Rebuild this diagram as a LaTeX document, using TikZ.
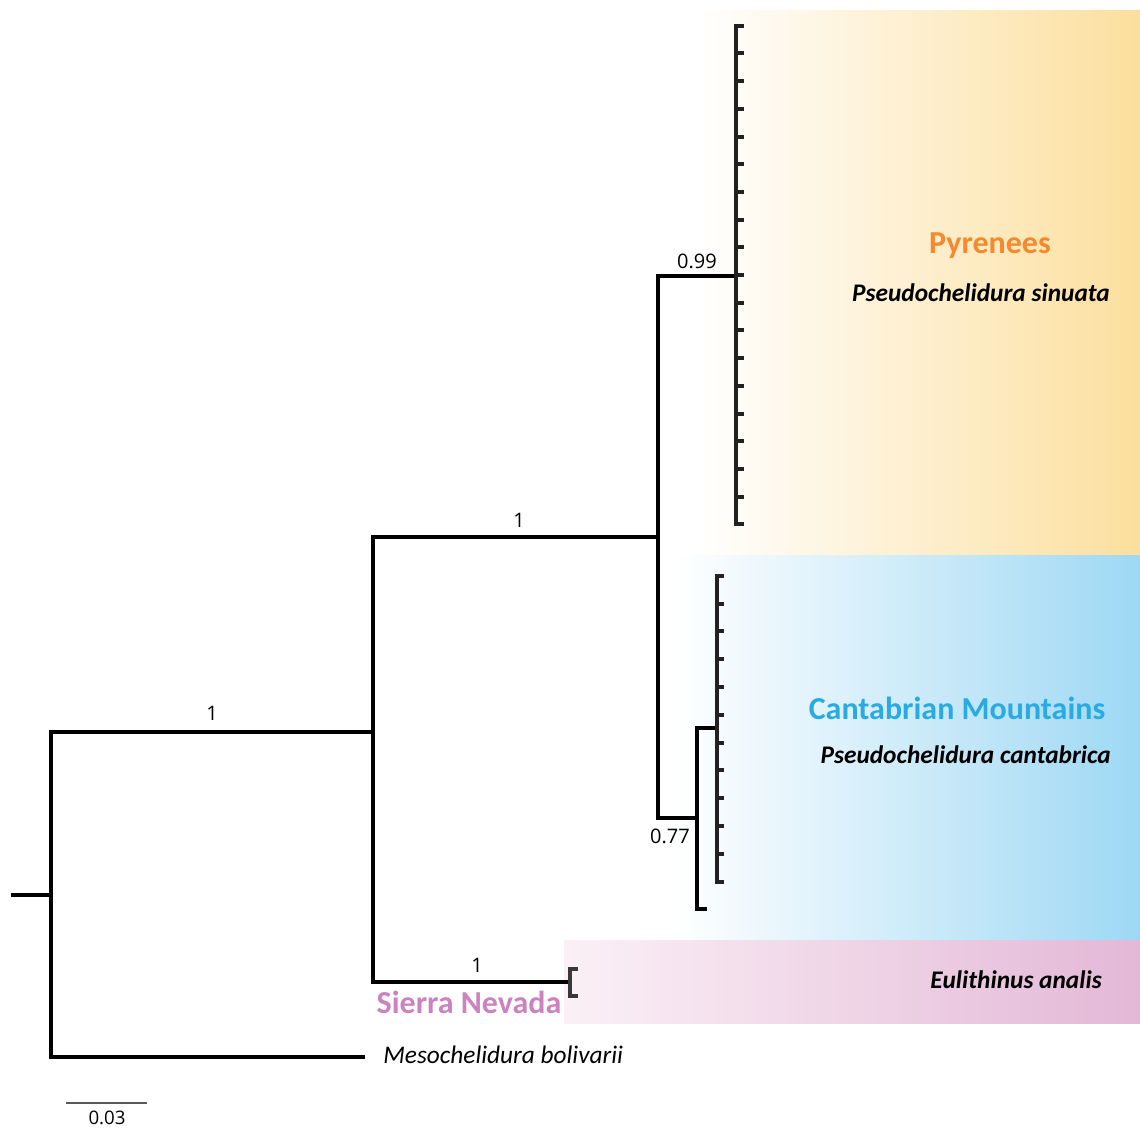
\documentclass[tikz,border=0pt]{standalone}
\usepackage{fontspec}
\setmainfont{Carlito}
\newfontfamily\numfont{Open Sans}
\definecolor{pyrR}{RGB}{252,223,158}
\definecolor{canR}{RGB}{158,216,244}
\definecolor{sieL}{RGB}{251,240,246}
\definecolor{sieR}{RGB}{227,184,215}
\definecolor{pyrT}{RGB}{246,137,46}
\definecolor{canT}{RGB}{41,171,226}
\definecolor{sieT}{RGB}{204,130,192}
\definecolor{combC}{RGB}{34,34,34}
\begin{document}
\begin{tikzpicture}[x=0.75pt,y=-0.75pt,
  br/.style={line width=3pt,black},
  comb/.style={line width=3pt,combC,line cap=rect},
  tick/.style={line width=3pt,combC},
  numlab/.style={font=\numfont\fontsize{15}{17}\selectfont,inner sep=0pt},
  region/.style={font=\bfseries\fontsize{24}{28}\selectfont,inner sep=0pt},
  species/.style={font=\bfseries\itshape\fontsize{19}{22}\selectfont,inner sep=0pt},
  taxon/.style={font=\itshape\fontsize{19}{22}\selectfont,inner sep=0pt}]
\useasboundingbox (0,0) rectangle (1140,1129);
% backgrounds
\shade[left color=white,right color=pyrR] (697,10) rectangle (1140,555);
\shade[left color=white,right color=canR] (673,555) rectangle (1140,940);
\shade[left color=sieL,right color=sieR] (564,940) rectangle (1140,1023);
% coordinates of tree nodes
\coordinate (r0) at (11,895);
\coordinate (r) at (51,895);
\coordinate (n1) at (373,732);
\coordinate (meso) at (365,1057);
\coordinate (n2) at (658,537);
\coordinate (sie) at (570,982);
\coordinate (pyr) at (736,276);
\coordinate (can) at (697,818);
\coordinate (cani) at (717,728);
\coordinate (canlast) at (707,909);
% branches
\draw[br] (r0) -- (r);
\draw[br] (n1) -| (r) |- (meso);
\draw[br] (n2) -| (n1) |- (sie);
\draw[br] (pyr) -| (n2) |- (can);
\draw[br] (cani) -| (can) |- (canlast);
% Pyrenees comb
\foreach \i in {0,...,18}{
  \coordinate (p\i) at (736,{25.7+27.7*\i});
  \draw[tick] (p\i) -- ++(8,0);
}
\draw[comb] (p0) -- (p18);
% Cantabrian comb
\foreach \i in {0,...,11}{
  \coordinate (c\i) at (717,{575.7+27.82*\i});
  \draw[tick] (c\i) -- ++(7,0);
}
\draw[comb] (c0) -- (c11);
% Sierra Nevada bracket
\coordinate (s0) at (570,969);
\coordinate (s1) at (570,996);
\draw[tick,color=black!78] (578,969) -- (s0) -- (s1) -- (578,996);
% labels
\node[numlab] (l099) at (697,261) {0.99};
\node[numlab] (l1a) at (519,520) {1};
\node[numlab] (l1b) at (212,713) {1};
\node[numlab] (l077) at (670,836) {0.77};
\node[numlab] (l1c) at (477,965) {1};
\node[region,text=sieT] (sn) at (469,1002) {Sierra Nevada};
\node[taxon,anchor=west] (mb) at (383,1055) {Mesochelidura bolivarii};
\node[region,text=pyrT] (py) at (990,246) {Pyrenees};
\node[species,anchor=east] (ps) at (1110,293) {Pseudochelidura sinuata};
\node[region,text=canT] (cm) at (957,708) {Cantabrian Mountains};
\node[species,anchor=east] (pc) at (1111,755) {Pseudochelidura cantabrica};
\node[species,anchor=east] (ea) at (1102,980) {Eulithinus analis};
% scale bar
\coordinate (sb1) at (66,1103);
\coordinate (sb2) at (147,1103);
\draw[line width=0.8pt,black!65] (sb1) -- (sb2);
\node[numlab,font=\numfont\fontsize{14}{16}\selectfont] (sbl) at (107,1118) {0.03};
\end{tikzpicture}
\end{document}
